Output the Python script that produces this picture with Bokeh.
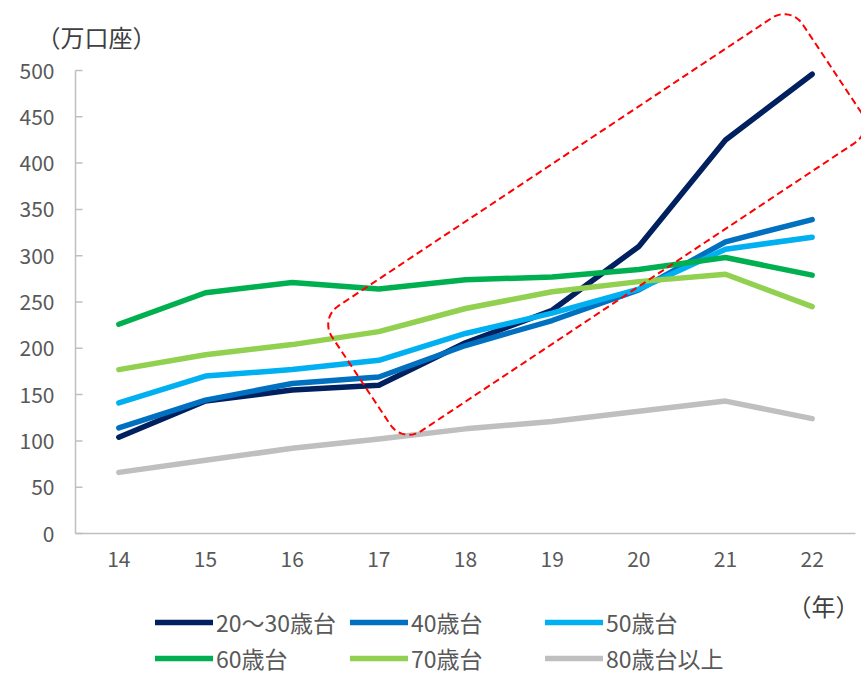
import math
from bokeh.plotting import figure
from bokeh.models import Range1d, Legend, LegendItem, Label, PolyAnnotation, ColumnDataSource
from bokeh.core.properties import value
from bokeh.embed import file_html
from bokeh.resources import INLINE

# ---- data ----
years = ["14", "15", "16", "17", "18", "19", "20", "21", "22"]
age_20_30 = [104, 143, 155, 160, 206, 241, 310, 425, 496]
age_40 = [114, 144, 162, 169, 203, 230, 263, 315, 339]
age_50 = [141, 170, 177, 187, 216, 238, 264, 307, 320]
age_60 = [226, 260, 271, 264, 274, 277, 285, 298, 279]
age_70 = [177, 193, 204, 218, 243, 261, 272, 280, 245]
age_80 = [66, 79, 92, 102, 113, 121, 132, 143, 124]
series_names = ["20～30歳台", "40歳台", "50歳台", "60歳台", "70歳台", "80歳台以上"]
series_values = [age_20_30, age_40, age_50, age_60, age_70, age_80]
colors = ["#002060", "#0070C0", "#00B0F0", "#00B050", "#92D050", "#BFBFBF"]
y_ticks = list(range(0, 501, 50))
y_max = 500

FONT = "Noto Sans CJK JP"
W, H = 861, 676
# axis box in canvas pixels
AX_L, AX_R, AX_T, AX_B = 75, 855, 70, 533

n = len(years)
px_per_x = (AX_R - AX_L) / n
px_per_y = (AX_B - AX_T) / y_max
x_lo = -0.5 - AX_L / px_per_x
x_hi = -0.5 + (W - AX_L) / px_per_x
y_lo = -(H - AX_B) / px_per_y
y_hi = AX_B / px_per_y

def to_dx(px):
    return -0.5 + (px - AX_L) / px_per_x
def to_dy(py):
    return (AX_B - py) / px_per_y

p = figure(width=W, height=H, output_backend="svg", toolbar_location=None,
           x_range=Range1d(x_lo, x_hi), y_range=Range1d(y_lo, y_hi),
           x_axis_location=None, y_axis_location=None)
p.min_border = 0
p.outline_line_color = None
p.xgrid.visible = False
p.ygrid.visible = False
p.background_fill_color = "white"
p.border_fill_color = "white"

xs = list(range(n))
x0 = -0.5
x1 = n - 0.5

# axis lines and y ticks (drawn through the data scales)
AXIS_COL = "#BFBFBF"
p.segment(x0=[x0, x0], y0=[0, 0], x1=[x1, x0], y1=[0, y_max],
          line_color=AXIS_COL, line_width=1.5)
tick_len = 7 / px_per_x
p.segment(x0=[x0] * len(y_ticks), y0=y_ticks, x1=[x0 + tick_len] * len(y_ticks), y1=y_ticks,
          line_color=AXIS_COL, line_width=1.5)

# series
renderers = []
for vals, col in zip(series_values, colors):
    r = p.line(xs, vals, line_color=col, line_width=5.5, line_cap="round", line_join="round")
    renderers.append(r)

# tick labels
ysrc = ColumnDataSource(dict(x=[x0 - 21 / px_per_x] * len(y_ticks), y=y_ticks,
                             t=[str(t) for t in y_ticks]))
p.text(x="x", y="y", text="t", source=ysrc, text_font=value(FONT), text_font_size="21px",
       text_color="#595959", text_align="right", text_baseline="middle")
xsrc = ColumnDataSource(dict(x=xs, y=[-17 / px_per_y] * n, t=years))
p.text(x="x", y="y", text="t", source=xsrc, text_font=value(FONT), text_font_size="21px",
       text_color="#595959", text_align="center", text_baseline="top")

# highlight box (rotated rounded rectangle, specified in screen pixels)
hl_cx, hl_cy, hl_w, hl_h, hl_ang, hl_r = 596, 224, 565, 150, 33.6, 22
th = math.radians(hl_ang)
u = (math.cos(th), -math.sin(th))
v = (math.sin(th), math.cos(th))
pts = []
for (sa, sb, phi0) in [(1, 1, 0), (-1, 1, 90), (-1, -1, 180), (1, -1, 270)]:
    ca = sa * (hl_w / 2 - hl_r)
    cb = sb * (hl_h / 2 - hl_r)
    for k in range(13):
        phi = math.radians(phi0 + k * 90 / 12)
        a = ca + hl_r * math.cos(phi)
        b = cb + hl_r * math.sin(phi)
        pts.append((hl_cx + a * u[0] + b * v[0], hl_cy + a * u[1] + b * v[1]))
box = PolyAnnotation(xs=[to_dx(q[0]) for q in pts], ys=[to_dy(q[1]) for q in pts],
                     xs_units="data", ys_units="data", fill_color=None, fill_alpha=0,
                     line_color="#FF0000", line_alpha=1.0, line_width=2, line_dash="7 4")
p.add_layout(box)

# unit labels
p.add_layout(Label(x=to_dx(36), y=to_dy(36), text="（万口座）", text_font=FONT,
                   text_font_size="24px", text_color="#404040",
                   text_align="left", text_baseline="middle"))
p.add_layout(Label(x=to_dx(787), y=to_dy(605), text="（年）", text_font=FONT,
                   text_font_size="24px", text_color="#404040",
                   text_align="left", text_baseline="middle"))

# legend
items = [LegendItem(label=nm, renderers=[r]) for nm, r in zip(series_names, renderers)]
legend = Legend(items=items, orientation="horizontal", ncols=3,
                location=(155, 0), glyph_width=58, glyph_height=36,
                label_standoff=3, label_width=134, spacing=0, padding=0, margin=0,
                border_line_color=None, background_fill_alpha=0,
                label_text_font=FONT, label_text_font_size="23px",
                label_text_color="#595959")
p.add_layout(legend)

open("out.html", "w").write(file_html(p, INLINE))
